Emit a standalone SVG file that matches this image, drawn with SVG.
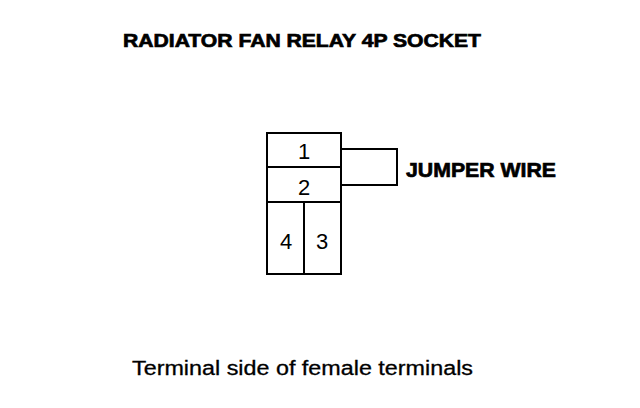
<svg xmlns="http://www.w3.org/2000/svg" width="640" height="408" viewBox="0 0 640 408">
<style>
.ln{fill:none;stroke:#000;stroke-width:2}
.num{font-family:"Liberation Sans",Arial,sans-serif;font-size:22px;fill:#000;text-anchor:middle}
.bold{font-family:"Liberation Sans",Arial,sans-serif;font-weight:bold;fill:#000;stroke:#000;stroke-width:0.7}
.reg{font-family:"Liberation Sans",Arial,sans-serif;fill:#000;stroke:#000;stroke-width:0.3}
</style>
<rect width="640" height="408" fill="#fff"/>
<text class="bold" x="123" y="47" font-size="19" textLength="358" lengthAdjust="spacingAndGlyphs">RADIATOR FAN RELAY 4P SOCKET</text>
<g id="socket">
<rect class="ln" x="267" y="133" width="74" height="141"/>
<line class="ln" x1="267" y1="167" x2="341" y2="167"/>
<line class="ln" x1="267" y1="202" x2="341" y2="202"/>
<line class="ln" x1="304" y1="202" x2="304" y2="274"/>
<text class="num" x="304" y="159">1</text>
<text class="num" x="304" y="195">2</text>
<text class="num" x="286" y="249">4</text>
<text class="num" x="322" y="249">3</text>
</g>
<g id="connectors">
<polyline class="ln" points="341,149 397,149 397,185 341,185"/>
</g>
<g id="jumper-label">
<text class="bold" x="406" y="177" font-size="21" textLength="150" lengthAdjust="spacingAndGlyphs">JUMPER WIRE</text>
</g>
<text class="reg" x="132" y="375" font-size="20" textLength="341" lengthAdjust="spacingAndGlyphs">Terminal side of female terminals</text>
</svg>
